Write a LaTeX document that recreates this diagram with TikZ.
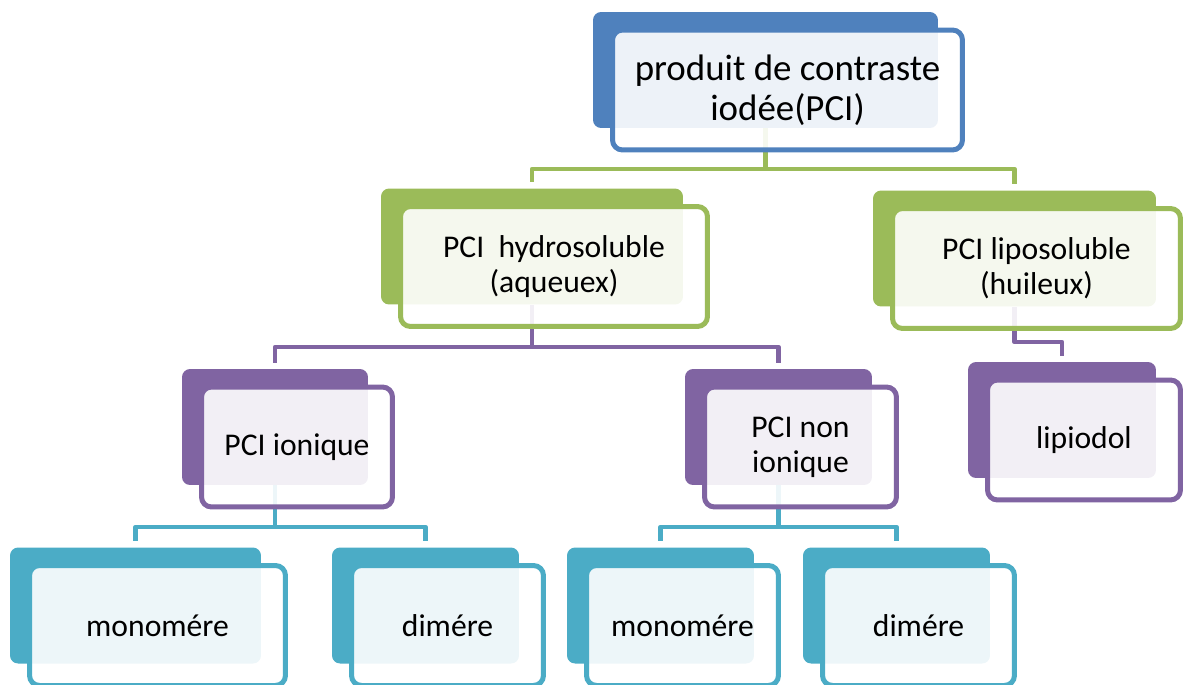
\documentclass[tikz,border=0pt]{standalone}
\usepackage{fontspec}
\setmainfont{Carlito}
\usetikzlibrary{positioning, calc, backgrounds}
\definecolor{pciblue}{RGB}{79,129,189}
\definecolor{pcigreen}{RGB}{155,187,89}
\definecolor{pcipurple}{RGB}{128,100,162}
\definecolor{pciteal}{RGB}{75,172,198}

\begin{document}
\begin{tikzpicture}[
        x=0.02cm, y=-0.02cm,
        back/.style={rectangle, rounded corners=0.16cm, fill=#1, minimum height=2.32cm, inner sep=0pt},
        front/.style={rectangle, rounded corners=0.2cm, draw=#1, line width=0.1cm, fill=white, fill opacity=0.9, text opacity=1,
            minimum height=2.4cm, align=center, inner sep=0pt, font=\fontsize{18}{19.9}\selectfont},
        wire/.style={draw=#1, line width=0.095cm, line join=round, shorten >=0.12cm}
    ]
        \useasboundingbox (0,0) rectangle (1187,684);

        % Row 1: root
        \node[back=pciblue, minimum width=6.9cm] (topb) at (765.5,70) {};
        \node[front=pciblue, minimum width=7.0cm, font=\fontsize{21}{22.7}\selectfont] (top) at ([shift={(22,20)}]topb.center) {produit de contraste\\iodée(PCI)};

        % Row 2: hydrosoluble / liposoluble
        \node[back=pcigreen, minimum width=6.04cm] (hydrob) at (532,246.5) {};
        \node[front=pcigreen, minimum width=6.14cm] (hydro) at ([shift={(22,20)}]hydrob.center) {PCI\ \ hydrosoluble\\(aqueuex)};
        \node[back=pcigreen, minimum width=5.66cm] (lipob) at (1014.5,248.5) {};
        \node[front=pcigreen, minimum width=5.76cm] (lipo) at ([shift={(22,20)}]lipob.center) {PCI liposoluble\\(huileux)};

        % Row 3: ionique / non ionique / lipiodol
        \node[back=pcipurple, minimum width=3.72cm] (ionb) at (275,427) {};
        \node[front=pcipurple, minimum width=3.82cm] (ion) at ([shift={(22,20)}]ionb.center) {PCI ionique};
        \node[back=pcipurple, minimum width=3.74cm] (nonionb) at (778.5,427) {};
        \node[front=pcipurple, minimum width=3.84cm] (nonion) at ([shift={(22,20)}]nonionb.center) {PCI non\\ionique};
        \node[back=pcipurple, minimum width=3.76cm] (lipiodolb) at (1062,420) {};
        \node[front=pcipurple, minimum width=3.86cm] (lipiodol) at ([shift={(22,20)}]lipiodolb.center) {lipiodol};

        % Row 4: monomere / dimere
        \node[back=pciteal, minimum width=5.02cm] (monoab) at (135.5,605.5) {};
        \node[front=pciteal, minimum width=5.12cm] (monoa) at ([shift={(22,20)}]monoab.center) {monomére};
        \node[back=pciteal, minimum width=3.74cm] (dimab) at (425.5,605.5) {};
        \node[front=pciteal, minimum width=3.84cm] (dima) at ([shift={(22,20)}]dimab.center) {dimére};
        \node[back=pciteal, minimum width=3.74cm] (monobb) at (660.5,605.5) {};
        \node[front=pciteal, minimum width=3.84cm] (monob) at ([shift={(22,20)}]monobb.center) {monomére};
        \node[back=pciteal, minimum width=3.74cm] (dimbb) at (896.5,605.5) {};
        \node[front=pciteal, minimum width=3.84cm] (dimb) at ([shift={(22,20)}]dimbb.center) {dimére};

        % Connectors (behind the boxes)
        \coordinate (rowA) at (0,169);
        \coordinate (rowB) at (0,347);
        \coordinate (rowC) at (0,342);
        \coordinate (rowD) at (0,527);
        \begin{scope}[on background layer]
            \draw[wire=pcigreen] (topb.south) -- (topb.south |- rowA) -| (hydrob.north);
            \draw[wire=pcigreen] (topb.south) -- (topb.south |- rowA) -| (lipob.north);
            \draw[wire=pcipurple] (hydrob.south) -- (hydrob.south |- rowB) -| (ionb.north);
            \draw[wire=pcipurple] (hydrob.south) -- (hydrob.south |- rowB) -| (nonionb.north);
            \draw[wire=pcipurple] (lipob.south) -- (lipob.south |- rowC) -| (lipiodolb.north);
            \draw[wire=pciteal] (ionb.south) -- (ionb.south |- rowD) -| (monoab.north);
            \draw[wire=pciteal] (ionb.south) -- (ionb.south |- rowD) -| (dimab.north);
            \draw[wire=pciteal] (nonionb.south) -- (nonionb.south |- rowD) -| (monobb.north);
            \draw[wire=pciteal] (nonionb.south) -- (nonionb.south |- rowD) -| (dimbb.north);
        \end{scope}
    \end{tikzpicture}
\end{document}
